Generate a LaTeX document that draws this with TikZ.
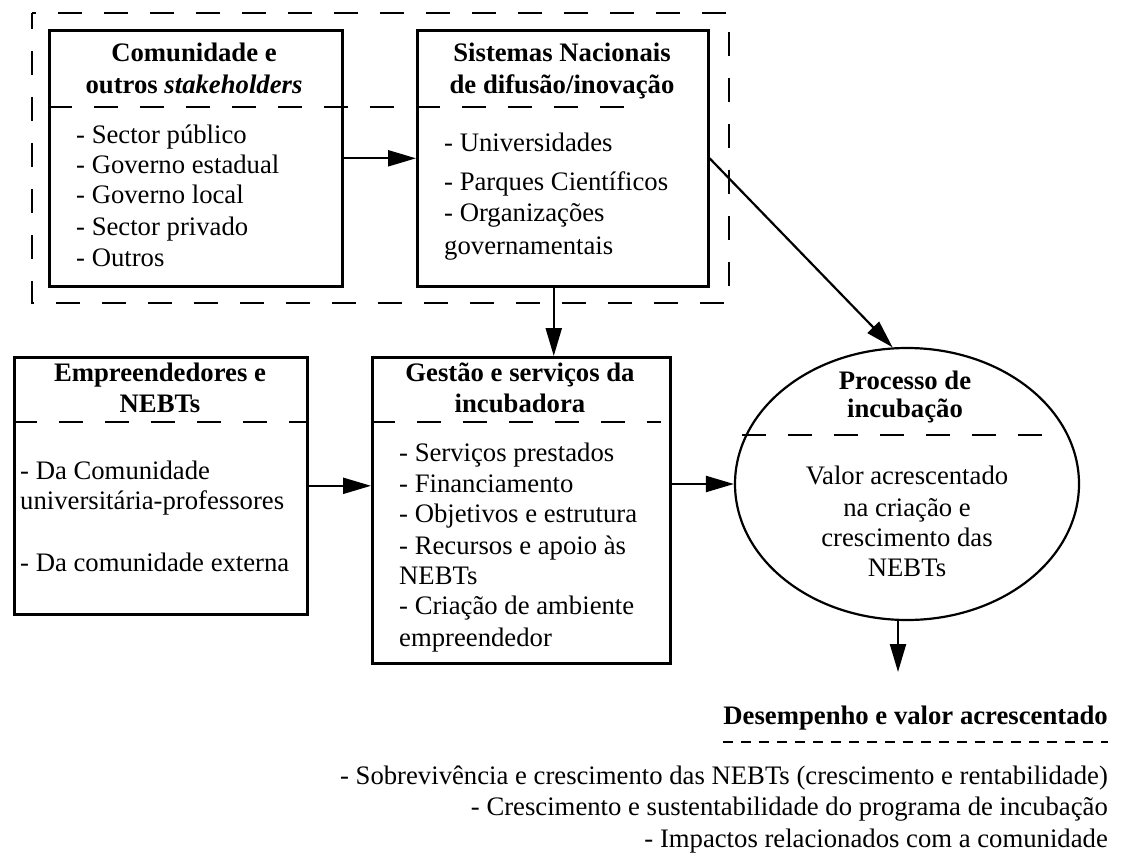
\documentclass[tikz,border=0pt]{standalone}
\usepackage{fontspec}
\setmainfont{Liberation Serif}
\usetikzlibrary{arrows.meta,shapes.geometric,calc}
\begin{document}
\fontsize{26.7}{30}\selectfont
\begin{tikzpicture}[x=1pt,y=-1pt,
  box/.style={draw, line width=2.6pt, inner sep=0pt, anchor=north west},
  arr/.style={line width=2.2pt, -{Triangle[length=28pt,width=16pt]}},
  dsh/.style={line width=2.6pt, dash pattern=on 24pt off 22pt},
  fine/.style={line width=2pt, dash pattern=on 10pt off 8pt},
  ttl/.style={font=\bfseries, inner sep=0pt, anchor=base},
  itm/.style={inner sep=0pt, anchor=base west},
  mid/.style={inner sep=0pt, anchor=base},
  rgt/.style={inner sep=0pt, anchor=base east},
]
\useasboundingbox (0,0) rectangle (1121,861);

% outer dashed frame around the two upper boxes
\draw[dsh, dash phase=8pt] (32,13) rectangle (729,303);

% boxes
\node[box, minimum width=293pt, minimum height=256pt] (box1) at (48,29) {};
\node[box, minimum width=291pt, minimum height=256pt] (box2) at (416,29) {};
\node[box, minimum width=293pt, minimum height=257pt] (box3) at (13,356) {};
\node[box, minimum width=298pt, minimum height=306pt] (box4) at (371,356) {};
\node[draw, ellipse, line width=2.2pt, inner sep=0pt,
      minimum width=344pt, minimum height=272pt] (ell) at (907,484) {};

% dashed separators
\draw[dsh] (48,107) -- (628,107);
\draw[dsh] (13,422) -- (306,422);
\draw[dsh] (371,422) -- (661,422);
\draw[dsh] (742,435) -- (1045,435);
\draw[fine] (723,742) -- (1108,742);

% titles
\node[ttl] (t1a) at (194,62) {Comunidade e};
\node[ttl] (t1b) at (194,94) {outros \textit{stakeholders}};
\node[ttl] (t2a) at (562,62) {Sistemas Nacionais};
\node[ttl] (t2b) at (562,94) {de difusão/inovação};
\node[ttl] (t3a) at (160,381) {Empreendedores e};
\node[ttl] (t3b) at (160,412) {NEBTs};
\node[ttl] (t4a) at (520,381) {Gestão e serviços da};
\node[ttl] (t4b) at (520,412) {incubadora};
\node[ttl] (t5a) at (905,389) {Processo de};
\node[ttl] (t5b) at (905,417) {incubação};
\node[ttl, anchor=base east] (t6) at (1108,724) {Desempenho e valor acrescentado};

% list entries
\foreach \t/\y [count=\i] in {{- Sector público}/135, {- Governo estadual}/165,
    {- Governo local}/195, {- Sector privado}/226, {- Outros}/257}
  \node[itm] (a\i) at (76,\y+9) {\t};
\foreach \t/\y [count=\i] in {{- Universidades}/143, {- Parques Científicos}/181,
    {- Organizações}/213, {governamentais}/245}
  \node[itm] (b\i) at (444,\y+9) {\t};
\foreach \t/\y [count=\i] in {{- Da Comunidade}/470, {universitária-professores}/500,
    {- Da comunidade externa}/562}
  \node[itm] (c\i) at (20,\y+9) {\t};
\foreach \t/\y [count=\i] in {{- Serviços prestados}/452, {- Financiamento}/483,
    {- Objetivos e estrutura}/513, {- Recursos e apoio às}/545, {NEBTs}/575,
    {- Criação de ambiente}/605, {empreendedor}/637}
  \node[itm] (d\i) at (399,\y+9) {\t};
\foreach \t/\y [count=\i] in {{Valor acrescentado}/475, {na criação e}/507,
    {crescimento das}/537, {NEBTs}/567}
  \node[mid] (e\i) at (907,\y+9) {\t};
\foreach \t/\y [count=\i] in {{- Sobrevivência e crescimento das NEBTs (crescimento e rentabilidade)}/775,
    {- Crescimento e sustentabilidade do programa de incubação}/806,
    {- Impactos relacionados com a comunidade}/838}
  \node[rgt] (f\i) at (1108,\y+9) {\t};

% connectors
\draw[arr] (box1.east) -- (box2.west);
\draw[arr] (box2.266) -- (box2.266 |- box4.north);
\draw[arr] (box2.east) -- (ell.96);
\draw[arr] (box3.east) -- (box3.east -| box4.west);
\draw[arr] (ell.west -| box4.east) -- (ell.west);
\coordinate (out) at (898,672);
\draw[arr] (ell.south -| out) -- (out);
\end{tikzpicture}
\end{document}
